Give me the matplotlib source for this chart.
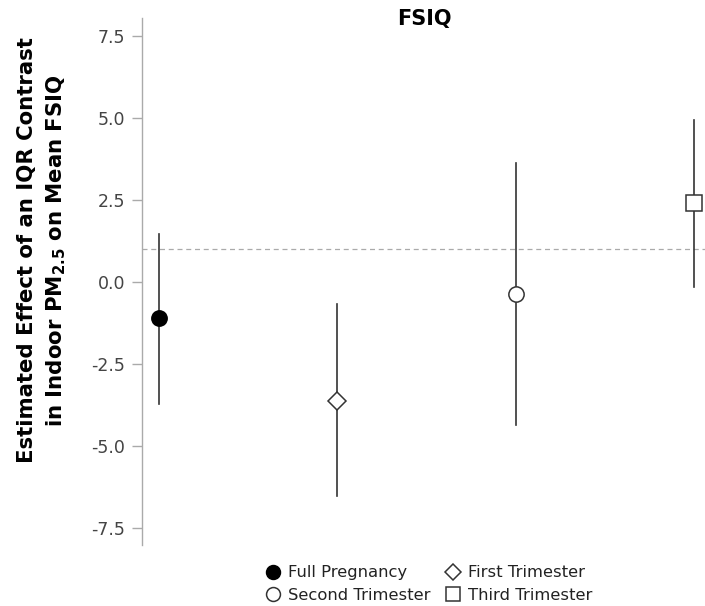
import matplotlib
matplotlib.use("Agg")
import matplotlib.pyplot as plt
from matplotlib.lines import Line2D

plt.rcParams['font.family'] = ['DejaVu Sans']
plt.rcParams['mathtext.fontset'] = 'dejavusans'

# ==========================================
# DATA
# ==========================================
periods = ['Full Pregnancy', 'First Trimester', 'Second Trimester', 'Third Trimester']
estimates = [-1.10, -3.63, -0.37, 2.41]
lower_ci = [-3.72, -6.52, -4.36, -0.15]
upper_ci = [1.46, -0.67, 3.63, 4.94]
markers = ['o', 'D', 'o', 's']
face_colors = ['black', 'white', 'white', 'white']
marker_sizes = [11, 9, 11, 11]
reference_line = 1.0
y_ticks = [-7.5, -5.0, -2.5, 0.0, 2.5, 5.0, 7.5]

# ==========================================
# PLOT
# ==========================================
fig = plt.figure(figsize=(7.05, 6.06), dpi=100)
ax = fig.add_axes([0.2014, 0.1007, 0.7986, 0.8693])

ax.axhline(reference_line, color='#aaaaaa', linestyle=(0, (4, 3)), linewidth=0.9, zorder=1)

for i, name in enumerate(periods):
    x = i + 1
    ax.plot([x, x], [lower_ci[i], upper_ci[i]], color='#333333', linewidth=1.2, zorder=2)
    ax.plot(x, estimates[i], marker=markers[i], markersize=marker_sizes[i],
            markerfacecolor=face_colors[i], markeredgecolor='#333333' if i else 'black',
            markeredgewidth=1.1, linestyle='none', zorder=3)

ax.set_xlim(0.905, 4.06)
ax.set_ylim(-8.02, 8.05)
ax.set_yticks(y_ticks)
ax.set_yticklabels([f'{t:.1f}' for t in y_ticks])
ax.set_xticks([])

for side in ['top', 'right', 'bottom']:
    ax.spines[side].set_visible(False)
ax.spines['left'].set_color('#aaaaaa')
ax.spines['left'].set_linewidth(1.0)
ax.tick_params(axis='y', colors='#aaaaaa', labelcolor='#444444', labelsize=12.5,
               length=7, width=1.0, pad=5)

fig.text(0.602, 0.968, 'FSIQ', ha='center', va='center', fontsize=15, fontweight='bold')

fig.text(0.038, 0.587, 'Estimated Effect of an IQR Contrast',
         rotation=90, ha='center', va='center', fontsize=15.3, fontweight='bold')
fig.text(0.080, 0.587, r'in Indoor PM$_{\mathbf{2.5}}$ on Mean FSIQ',
         rotation=90, ha='center', va='center', fontsize=15.3, fontweight='bold')

handles = []
for i, name in enumerate(periods):
    handles.append(Line2D([], [], marker=markers[i], markersize=marker_sizes[i] - 1,
                          markerfacecolor=face_colors[i],
                          markeredgecolor='#333333' if i else 'black',
                          markeredgewidth=1.1, linestyle='none', label=name))
# two columns: row-major order as in reference
order = [0, 2, 1, 3]
fig.legend([handles[k] for k in order], [periods[k] for k in order],
           loc='center', bbox_to_anchor=(0.608, 0.036), ncol=2, frameon=False,
           fontsize=11.8, handletextpad=0.45, columnspacing=0.85, labelspacing=0.45,
           handlelength=1.0, labelcolor='#222222')

fig.savefig('out.png', dpi=100)
